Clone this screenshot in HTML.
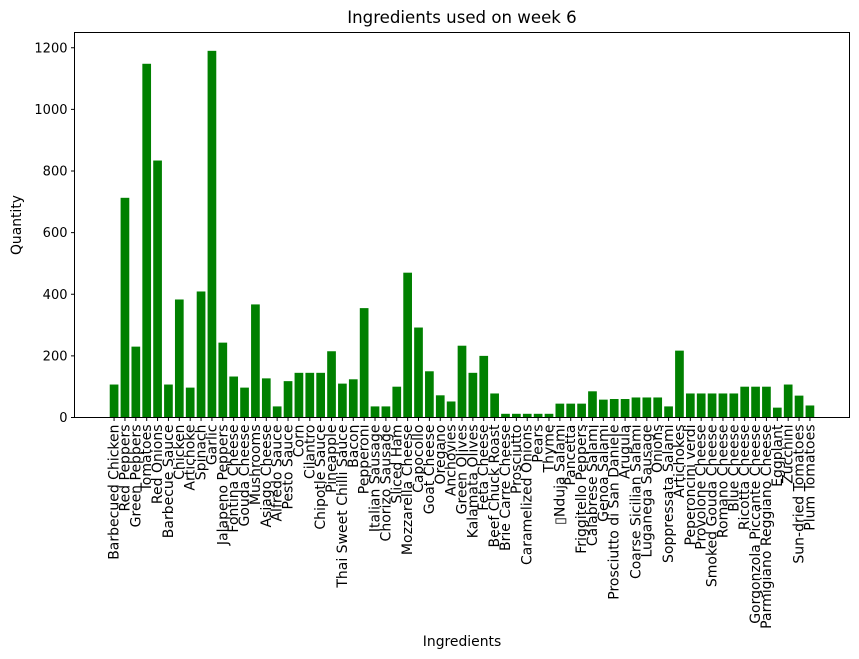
<!DOCTYPE html>
<html><head><meta charset="utf-8"><style>
html,body{margin:0;padding:0;background:#fff;}
svg{display:block;font-family:"DejaVu Sans","Liberation Sans",sans-serif;}
</style></head><body>
<svg id="chart" width="859" height="659" viewBox="0 0 859 659">
<rect x="0" y="0" width="859" height="659" fill="#fff"/>
<text x="462" y="23" font-size="16.6" text-anchor="middle">Ingredients used on week 6</text>
<text x="462" y="646" font-size="13.9" text-anchor="middle">Ingredients</text>
<text transform="translate(21,225) rotate(-90)" font-size="13.9" text-anchor="middle">Quantity</text>
<g id="bars"></g>
<g id="xticks"></g>
<g id="yticks"></g>
<rect x="74.5" y="32.5" width="775" height="385" fill="none" stroke="#000" stroke-width="1"/>
</svg>
<script>
const categories = ["Barbecued Chicken","Red Peppers","Green Peppers","Tomatoes","Red Onions","Barbecue Sauce","Chicken","Artichoke","Spinach","Garlic","Jalapeno Peppers","Fontina Cheese","Gouda Cheese","Mushrooms","Asiago Cheese","Alfredo Sauce","Pesto Sauce","Corn","Cilantro","Chipotle Sauce","Pineapple","Thai Sweet Chilli Sauce","Bacon","Pepperoni","Italian Sausage","Chorizo Sausage","Sliced Ham","Mozzarella Cheese","Capocollo","Goat Cheese","Oregano","Anchovies","Green Olives","Kalamata Olives","Feta Cheese","Beef Chuck Roast","Brie Carre Cheese","Prosciutto","Caramelized Onions","Pears","Thyme","\u25AFNduja Salami","Pancetta","Friggitello Peppers","Calabrese Salami","Genoa Salami","Prosciutto di San Daniele","Arugula","Coarse Sicilian Salami","Luganega Sausage","Onions","Soppressata Salami","Artichokes","Peperoncini verdi","Provolone Cheese","Smoked Gouda Cheese","Romano Cheese","Blue Cheese","Ricotta Cheese","Gorgonzola Piccante Cheese","Parmigiano Reggiano Cheese","Eggplant","Zucchini","Sun-dried Tomatoes","Plum Tomatoes"];
const quantities = [107,713,230,1148,834,107,383,97,409,1190,243,133,97,367,127,36,118,145,145,145,215,110,124,355,36,36,100,470,292,150,72,52,233,145,200,78,12,12,12,12,12,45,45,45,85,58,60,60,65,65,65,36,217,78,78,78,78,78,100,100,100,32,107,71,39];
const yTicks = [0,200,400,600,800,1000,1200];

const NS = "http://www.w3.org/2000/svg";
const L = 74.5, R = 849.5, T = 32.5, B = 417.5;
const n = categories.length;
const xmin = -0.4 - 0.05*(n - 1 + 0.8), xmax = n - 1 + 0.4 + 0.05*(n - 1 + 0.8);
const ymax = Math.max(...quantities) * 1.05;
function xs(v){ return L + (v - xmin) / (xmax - xmin) * (R - L); }
function ys(v){ return B - v / ymax * (B - T); }
const barsG = document.getElementById('bars');
const xG = document.getElementById('xticks');
const yG = document.getElementById('yticks');
const bw = xs(0.8) - xs(0);
quantities.forEach((q, i) => {
  const r = document.createElementNS(NS, 'rect');
  r.setAttribute('x', xs(i) - bw/2);
  r.setAttribute('y', ys(q));
  r.setAttribute('width', bw);
  r.setAttribute('height', ys(0) - ys(q));
  r.setAttribute('fill', '#008000');
  
  
  barsG.appendChild(r);
  const tk = document.createElementNS(NS, 'line');
  tk.setAttribute('x1', xs(i)); tk.setAttribute('x2', xs(i));
  tk.setAttribute('y1', B); tk.setAttribute('y2', B + 3.5);
  tk.setAttribute('stroke', '#000');
  
  
  xG.appendChild(tk);
  const t = document.createElementNS(NS, 'text');
  t.setAttribute('transform', `translate(${xs(i) + 4.5},${B + 7}) rotate(-90)`);
  t.setAttribute('text-anchor', 'end');
  t.setAttribute('font-size', '14');
  t.textContent = categories[i];
  
  
  xG.appendChild(t);
});
yTicks.forEach(v => {
  const tk = document.createElementNS(NS, 'line');
  tk.setAttribute('x1', L - 3.5); tk.setAttribute('x2', L);
  tk.setAttribute('y1', ys(v)); tk.setAttribute('y2', ys(v));
  tk.setAttribute('stroke', '#000');
  
  
  yG.appendChild(tk);
  const t = document.createElementNS(NS, 'text');
  t.setAttribute('x', L - 7);
  t.setAttribute('y', ys(v) + 4.5);
  t.setAttribute('text-anchor', 'end');
  t.setAttribute('font-size', '13');
  t.textContent = v;
  
  
  yG.appendChild(t);
});
</script>
</body></html>
